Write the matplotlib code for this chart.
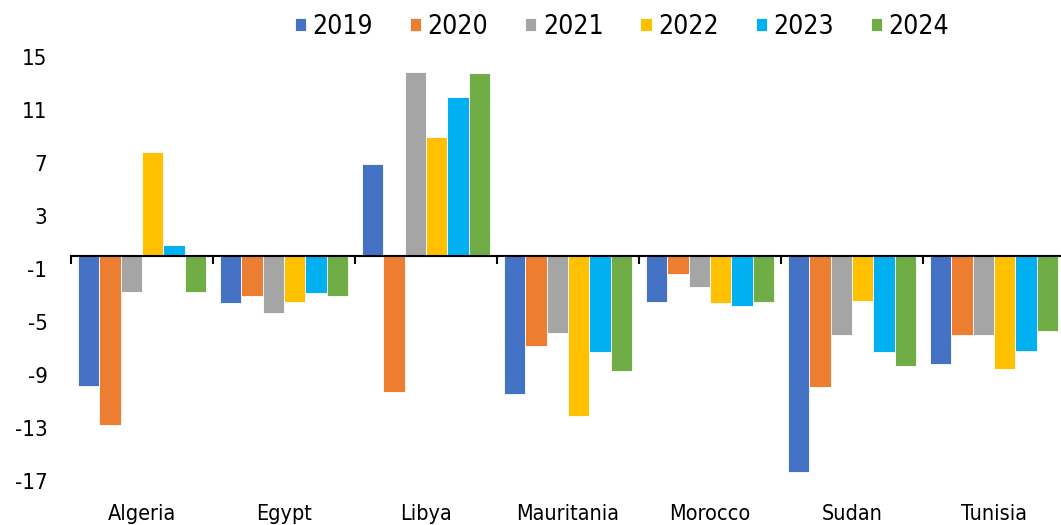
import matplotlib
matplotlib.use('Agg')
import matplotlib.pyplot as plt
import numpy as np

plt.rcParams['font.family'] = ['DejaVu Sans']
plt.rcParams['font.stretch'] = 'condensed'
plt.rcParams['axes.unicode_minus'] = False

countries = ['Algeria', 'Egypt', 'Libya', 'Mauritania', 'Morocco', 'Sudan', 'Tunisia']
years = ['2019', '2020', '2021', '2022', '2023', '2024']
v2019 = [-9.85, -3.55, 6.95, -10.4, -3.5, -16.3, -8.15]
v2020 = [-12.8, -3.0, -10.3, -6.8, -1.4, -9.9, -6.0]
v2021 = [-2.75, -4.3, 13.9, -5.8, -2.35, -6.0, -6.0]
v2022 = [7.8, -3.5, 9.0, -12.1, -3.55, -3.45, -8.55]
v2023 = [0.8, -2.8, 12.0, -7.3, -3.8, -7.3, -7.2]
v2024 = [-2.7, -3.05, 13.8, -8.7, -3.5, -8.35, -5.7]
yticks = [15, 11, 7, 3, -1, -5, -9, -13, -17]
colors = ['#4472C4', '#ED7D31', '#A5A5A5', '#FFC000', '#00B0F0', '#70AD47']

fig = plt.figure(figsize=(10.61, 5.25), dpi=100)
ax = fig.add_axes([71 / 1061, 44 / 525, 994 / 1061, 424 / 525])

series = [v2019, v2020, v2021, v2022, v2023, v2024]
x = np.arange(len(countries))
w = 0.15
for j, (vals, yr) in enumerate(zip(series, years)):
    ax.bar(x + (j - 2.5) * w, vals, w, color=colors[j], label=yr,
           edgecolor='white', linewidth=0.6)

ax.set_xlim(-0.5, len(countries) - 0.5)
ax.set_ylim(-17, 15)
ax.set_yticks(yticks)
ax.tick_params(axis='y', length=0, labelsize=16, pad=17)
for s in ['left', 'right', 'top']:
    ax.spines[s].set_visible(False)
ax.spines['bottom'].set_position(('data', 0))
ax.spines['bottom'].set_linewidth(1.5)
ax.set_xticks(np.arange(len(countries) + 1) - 0.5)
ax.set_xticklabels([])
ax.tick_params(axis='x', length=6, width=1.5, direction='out')
for i, c in enumerate(countries):
    ax.text(i, -0.077, c, transform=ax.get_xaxis_transform(), ha='center',
            va='center', fontsize=15.5)

ax.legend(loc='center', bbox_to_anchor=(622 / 1061, 1 - 27 / 525), bbox_transform=fig.transFigure,
          ncol=6, frameon=False, fontsize=19, handlelength=0.42, handleheight=0.42,
          handletextpad=0.25, columnspacing=1.4, borderpad=0)

plt.savefig('out.png', dpi=100)
